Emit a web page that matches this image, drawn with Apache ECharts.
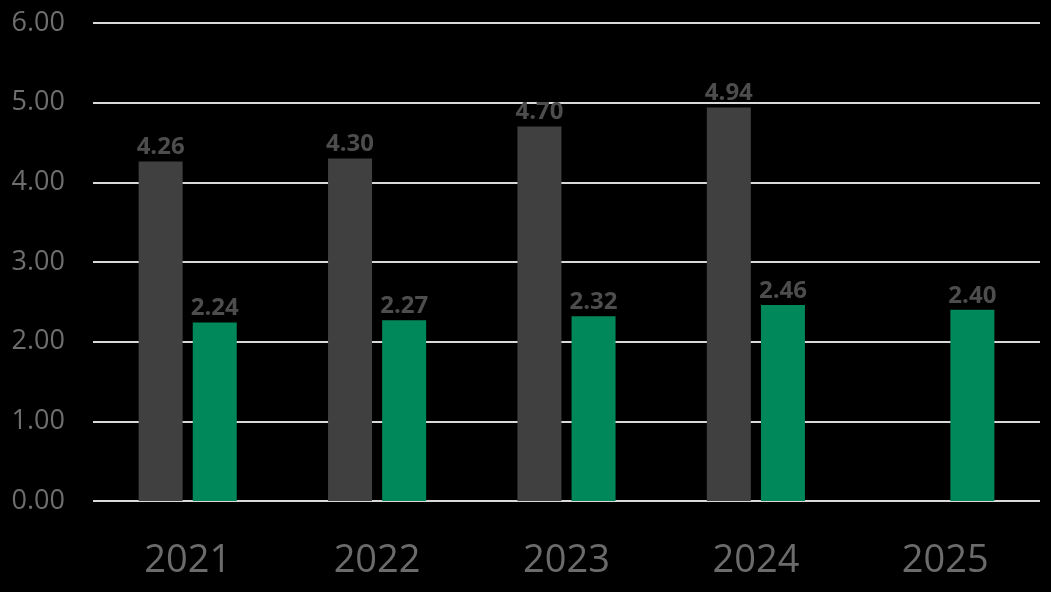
<!DOCTYPE html>
<html><head><meta charset="utf-8">
<style>html,body{margin:0;padding:0;background:#000;}#c{width:1051px;height:592px;}</style>
<script src="https://cdn.jsdelivr.net/npm/echarts@6/dist/echarts.min.js"></script>
</head><body><div id="c"></div>
<script>
const categories = ['2021','2022','2023','2024','2025'];
const greySeries = [4.26, 4.30, 4.70, 4.94, null];
const greenSeries = [2.24, 2.27, 2.32, 2.46, 2.40];
const yTicks = {min: 0, max: 6, interval: 1};

const chart = echarts.init(document.getElementById('c'), null, {renderer: 'canvas'});
const labelStyle = {
  show: true, position: 'top', distance: 2,
  color: '#4d4d4d', fontFamily: 'Open Sans', fontWeight: 'bold', fontSize: 24,
  formatter: p => p.value == null ? '' : Number(p.value).toFixed(2)
};
chart.setOption({
  backgroundColor: '#000',
  animation: false,
  grid: {left: 93, right: 11, top: 23, bottom: 91},
  xAxis: {
    type: 'category', data: categories,
    axisLine: {show: false}, axisTick: {show: false},
    axisLabel: {color: '#6b6b6b', fontFamily: 'Open Sans', fontSize: 38, margin: 41}
  },
  yAxis: {
    type: 'value', min: yTicks.min, max: yTicks.max, interval: yTicks.interval,
    axisLine: {show: false}, axisTick: {show: false},
    axisLabel: {color: '#6e6e6e', fontFamily: 'Open Sans', fontSize: 27, margin: 28,
      formatter: v => v.toFixed(2)},
    splitLine: {lineStyle: {color: '#d9d9d9', width: 2}}
  },
  series: [
    {type: 'bar', data: greySeries, barWidth: 44, barGap: '23%',
     itemStyle: {color: '#404040'}, label: labelStyle},
    {type: 'bar', data: greenSeries, barWidth: 44,
     itemStyle: {color: '#00875a'}, label: labelStyle}
  ]
});
</script></body></html>
